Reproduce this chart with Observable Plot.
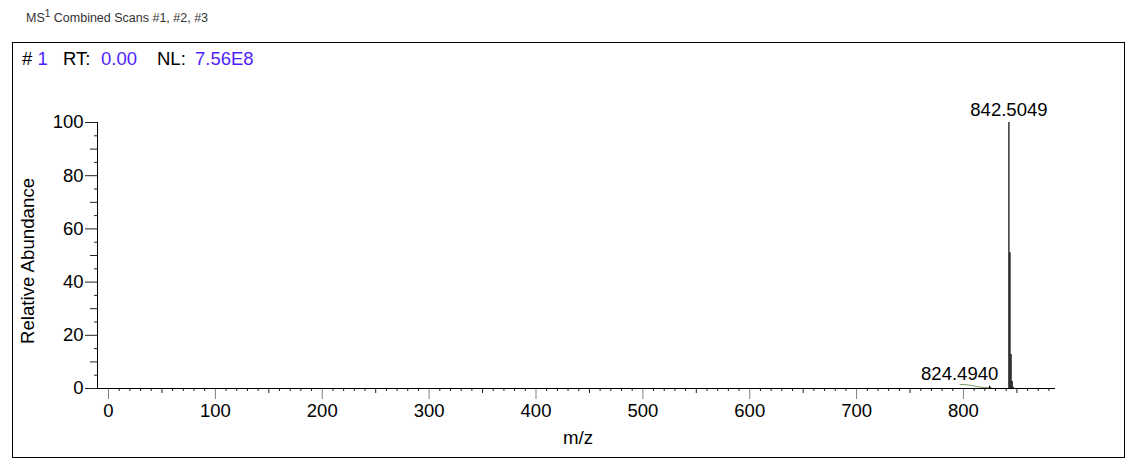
<!DOCTYPE html>
<html>
<head>
<meta charset="utf-8">
<script src="https://cdn.jsdelivr.net/npm/d3@7"></script>
<script src="https://cdn.jsdelivr.net/npm/@observablehq/plot@0.6"></script>
<style>
  html, body { margin: 0; padding: 0; background: #fff; }
  body { width: 1134px; height: 467px; position: relative; overflow: hidden; font-family: "Liberation Sans", Arial, sans-serif; }
  #title { position: absolute; left: 26px; top: 11px; font-size: 12.5px; color: #333; white-space: nowrap; }
  #title sup { font-size: 10px; vertical-align: 5px; line-height: 0; }
  #box { position: absolute; left: 12px; top: 42px; width: 1111px; height: 414px; border: 1px solid #000; }
  .hdr { position: absolute; top: 48px; font-size: 18.5px; white-space: nowrap; }
  .k { color: #000; }
  .v { color: #4f1fff; }
  #chart { position: absolute; left: 0; top: 0; }
  .ylab { position: absolute; left: 28px; top: 261px; font-size: 18.7px; transform: translate(-50%, -50%) rotate(-90deg); white-space: nowrap; }
  .xlab { position: absolute; left: 578px; top: 438px; font-size: 18.7px; transform: translate(-50%, -50%); white-space: nowrap; }
</style>
</head>
<body>
<div id="title">MS<sup>1</sup> Combined Scans #1, #2, #3</div>
<div id="box"></div>
<div class="hdr" style="left:22px"><span class="k">#</span> <span class="v">1</span></div>
<div class="hdr" style="left:63px"><span class="k">RT:</span></div>
<div class="hdr" style="left:101px"><span class="v">0.00</span></div>
<div class="hdr" style="left:157px"><span class="k">NL:</span></div>
<div class="hdr" style="left:195px"><span class="v">7.56E8</span></div>
<div id="chart"></div>
<div class="ylab">Relative Abundance</div>
<div class="xlab">m/z</div>
<script>
// Data
const mz =        [824.4940, 825.5, 842.5049, 843.508, 844.511, 845.514, 846.52];
const abundance = [0.8,      0.3,   100,      51,      12.8,    2.6,     0.5];
const labelMz =   [842.5049, 824.4940];
const labelAb =   [100,      0.8];
const labelText = ["842.5049", "824.4940"];
const xMajor = d3.range(0, 900, 100);
const xMid = d3.range(50, 900, 100);
const xMinor = d3.range(10, 890, 10).filter(v => v % 50 !== 0);
const yMajor = [0, 20, 40, 60, 80, 100];
const yMid = [10, 30, 50, 70, 90];
const yMinor = [5, 15, 25, 35, 45, 55, 65, 75, 85, 95];
const xDomain = [-10.3, 886.1];

const peaks = mz.map((m, i) => ({mz: m, ab: abundance[i]}));
const labels = labelMz.map((m, i) => ({mz: m, ab: labelAb[i], t: labelText[i]}));
const FS = 18.5;
const font = '"Liberation Sans", Arial, sans-serif';

const chart = Plot.plot({
  width: 1134,
  height: 467,
  marginLeft: 97,
  marginRight: 79,
  marginTop: 122,
  marginBottom: 79,
  style: {fontFamily: font, background: "transparent", overflow: "visible"},
  x: {domain: xDomain, label: null},
  y: {domain: [0, 100], label: null},
  marks: [
    // x axis ticks
    Plot.axisX({ticks: xMinor, tickSize: 3, tickFormat: () => "", stroke: "#222", label: null}),
    Plot.axisX({ticks: xMid, tickSize: 5, tickFormat: () => "", stroke: "#222", label: null}),
    Plot.axisX({ticks: xMajor, tickSize: 11, stroke: "#808080", tickPadding: 4, fontSize: FS, fill: "#000", tickFormat: d => String(d), label: null}),
    // y axis ticks
    Plot.axisY({ticks: yMinor, tickSize: 3, tickFormat: () => "", stroke: "#222", label: null}),
    Plot.axisY({ticks: yMid, tickSize: 7, tickFormat: () => "", stroke: "#222", label: null}),
    Plot.axisY({ticks: yMajor, tickSize: 12, stroke: "#222", tickPadding: 2, fontSize: FS, fill: "#000", tickFormat: d => String(d), label: null}),
    // axis lines
    Plot.ruleY([0], {stroke: "#000"}),
    Plot.ruleX([xDomain[0]], {stroke: "#000"}),
    // label connector for 824.4940
    Plot.link([labels[1]], {x1: d => d.mz - 28, y1: 1.5, x2: d => d.mz, y2: 0.3, curve: "bump-x", stroke: "#7a9a60", strokeWidth: 1}),
    // peaks
    Plot.ruleX(peaks, {x: "mz", y1: 0, y2: "ab", stroke: "#000", strokeWidth: 1.2}),
    // peak labels
    Plot.text([labels[0]], {x: "mz", y: "ab", text: "t", dy: -12, fontSize: FS, fill: "#000", textAnchor: "middle"}),
    Plot.text([labels[1]], {x: "mz", y: "ab", text: "t", dy: -12, dx: -30, fontSize: FS, fill: "#000", textAnchor: "middle"})
  ]
});
document.getElementById("chart").appendChild(chart);
</script>
</body>
</html>
